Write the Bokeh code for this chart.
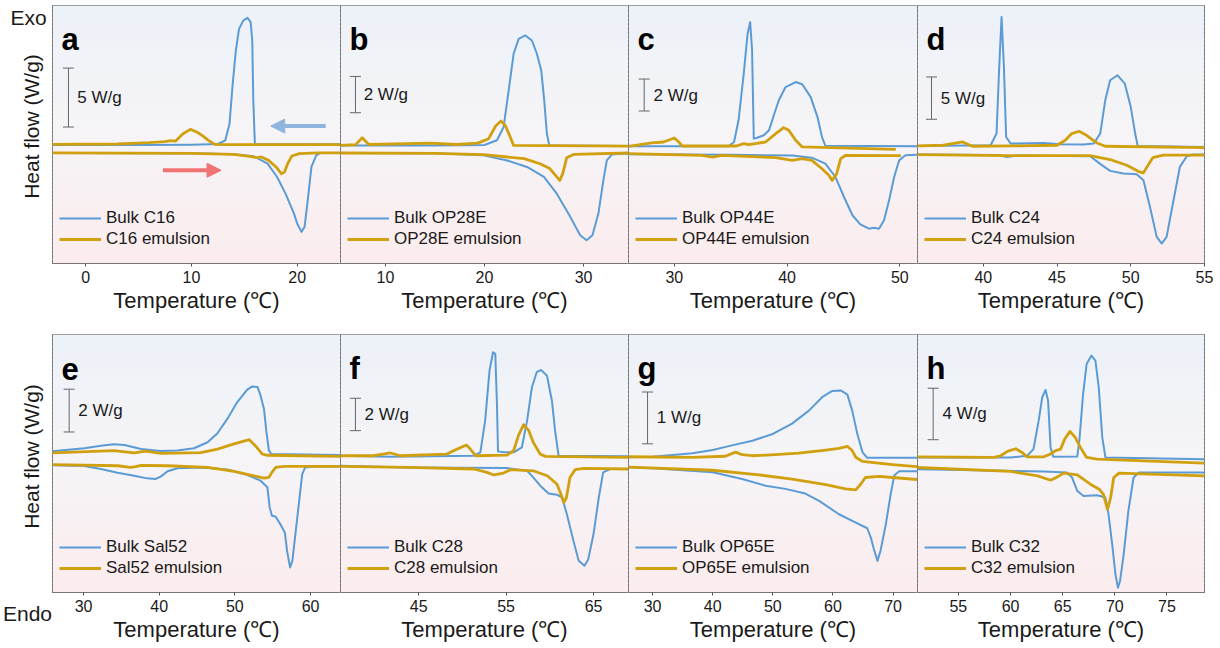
import numpy as np
from bokeh.plotting import figure
from bokeh.models import (Range1d, FixedTicker, Legend, LegendItem, Label, Arrow,
                          NormalHead)
from bokeh.layouts import row, column
from bokeh.embed import file_html
from bokeh.resources import INLINE

# ---------------- data (heat flow in W/g, offset traces) ----------------
# panel a : C16
a_bulk_cool_T = [-3.2, 5, 10, 12.5, 13.2, 13.6, 13.9, 14.2, 14.5, 14.9, 15.3, 15.6, 15.75, 15.85, 16.0, 20, 24.1]
a_bulk_cool_y = [-0.06, -0.06, -0.03, 0.03, 0.34, 1.75, 5.14, 7.97, 9.8, 10.5, 10.73, 10.37, 8.81, 3.73, 0, 0, 0]
a_emul_cool_T = [-3.2, 3, 6, 7.5, 8.0, 8.5, 9.2, 9.9, 10.5, 11.0, 11.6, 12.2, 13, 24.1]
a_emul_cool_y = [0, 0.03, 0.14, 0.23, 0.31, 0.28, 0.9, 1.27, 1.05, 0.76, 0.34, 0, -0.03, -0.03]
a_bulk_heat_T = [-3.2, 10, 14, 15.9, 17.2, 18.1, 18.9, 19.7, 20.0, 20.4, 20.7, 21.0, 21.35, 21.8, 22.2, 24.1]
a_bulk_heat_y = [-0.73, -0.76, -0.85, -1.02, -1.64, -2.77, -4.18, -5.88, -6.72, -7.43, -7.0, -4.75, -1.92, -0.93, -0.73, -0.73]
a_emul_heat_T = [-3.2, 10, 14, 15.5, 16.2, 16.6, 17.3, 18.0, 18.5, 18.8, 19.1, 19.5, 20.2, 22, 24.1]
a_emul_heat_y = [-0.73, -0.76, -0.85, -1.02, -1.13, -1.07, -1.36, -1.92, -2.49, -2.35, -1.64, -0.99, -0.79, -0.73, -0.73]

# panel b : OP28E
b_bulk_cool_T = [5.46, 15, 20, 21.26, 21.93, 22.44, 22.94, 23.45, 24.12, 24.79, 25.29, 25.73, 26.03, 26.3, 26.54, 30, 34.54]
b_bulk_cool_y = [0, 0, 0.02, 0.28, 1.01, 3.03, 5.05, 5.87, 6.06, 5.78, 5.05, 4.13, 2.48, 0.64, 0, -0.02, -0.04]
b_emul_cool_T = [5.46, 7.0, 7.65, 8.32, 14.5, 17.2, 19.24, 19.58, 20.42, 21.1, 21.66, 22.1, 22.6, 22.94, 34.54]
b_emul_cool_y = [0, 0.04, 0.42, 0.05, 0.13, 0.05, 0.13, 0.18, 0.37, 1.05, 1.34, 1.1, 0.46, 0, -0.04]
b_bulk_heat_T = [5.46, 15, 19.9, 22.3, 24.3, 26.0, 27.3, 28.66, 29.66, 30.3, 30.9, 31.5, 32.0, 32.35, 32.86, 33.7, 34.54]
b_bulk_heat_y = [-0.42, -0.44, -0.55, -0.83, -1.19, -1.74, -2.66, -3.94, -4.95, -5.23, -4.95, -3.76, -1.93, -0.83, -0.5, -0.46, -0.46]
b_emul_heat_T = [5.46, 15, 19.9, 24.0, 25.6, 26.6, 27.3, 27.6, 27.9, 28.3, 29.0, 34.54]
b_emul_heat_y = [-0.42, -0.44, -0.51, -0.73, -1.01, -1.28, -1.74, -1.93, -1.56, -0.68, -0.5, -0.42]

# panel c : OP44E
c_bulk_cool_T = [25.94, 34.8, 35.3, 35.7, 36.16, 36.5, 36.73, 36.9, 37.05, 37.35, 37.94, 38.4, 38.83, 39.27, 39.87, 40.76, 41.35, 42.1, 42.7, 43.1, 43.4, 51.57]
c_bulk_cool_y = [0, 0, 0.27, 1.63, 4.54, 7.04, 7.77, 6.0, 0.48, 0.54, 0.69, 1.0, 1.94, 2.88, 3.71, 4.02, 3.88, 3.08, 1.83, 0.58, 0.04, 0]
c_emul_cool_T = [25.94, 28.0, 29.05, 30.0, 30.4, 30.7, 35.5, 36.16, 36.6, 38.1, 39.0, 39.7, 40.16, 40.76, 41.35, 49.64]
c_emul_cool_y = [0, 0.21, 0.27, 0.52, 0.27, 0.02, 0.02, 0.17, 0.1, 0.27, 0.79, 1.17, 1.0, 0.38, -0.04, -0.19]
c_bulk_heat_T = [25.94, 35, 40.46, 42.2, 43.4, 44.3, 45.05, 45.8, 46.5, 47.27, 47.7, 48.16, 48.6, 49.05, 49.5, 49.94, 50.5, 51.57]
c_bulk_heat_y = [-0.5, -0.52, -0.58, -0.71, -1.08, -1.92, -3.17, -4.31, -4.88, -5.15, -5.1, -5.15, -4.63, -3.38, -1.92, -0.88, -0.56, -0.52]
c_emul_heat_T = [25.94, 32.46, 33.4, 34.2, 39.0, 40.46, 41.35, 42.2, 43.1, 43.7, 44.0, 44.4, 44.76, 45.2, 50.1]
c_emul_heat_y = [-0.46, -0.56, -0.67, -0.56, -0.71, -0.88, -0.77, -0.88, -1.4, -1.81, -2.13, -1.71, -0.77, -0.56, -0.58]

# panel d : C24
d_bulk_cool_T = [35.54, 40.5, 40.9, 41.08, 41.24, 41.4, 41.55, 41.85, 44.1, 45.2, 46.8, 47.5, 47.93, 48.27, 48.6, 49.1, 49.6, 50.0, 50.3, 50.47, 55]
d_bulk_cool_y = [0, 0.08, 1.46, 9.33, 15.24, 9.33, 1.06, 0.28, 0.35, 0.2, 0.16, 0.28, 1.46, 5.39, 7.76, 8.35, 7.36, 4.61, 1.46, 0, -0.12]
d_emul_cool_T = [35.54, 37.3, 38.6, 39.26, 41.85, 45.0, 45.56, 46.0, 46.5, 47.0, 47.7, 48.27, 55]
d_emul_cool_y = [0, 0.08, 0.47, -0.04, 0, 0.08, 0.67, 1.46, 1.73, 1.26, 0.35, -0.04, -0.2]
d_bulk_heat_T = [35.54, 41.0, 41.6, 42.3, 47.25, 47.9, 48.6, 49.5, 50.4, 50.86, 51.3, 51.76, 52.1, 52.43, 52.9, 53.33, 53.8, 54.25, 55]
d_bulk_heat_y = [-1.02, -1.06, -1.3, -1.14, -1.22, -2.09, -2.95, -3.27, -3.35, -4.06, -7.2, -10.75, -11.54, -10.75, -6.42, -2.48, -1.22, -1.02, -1.02]
d_emul_heat_T = [35.54, 41.6, 47.25, 48.6, 49.73, 50.6, 50.86, 51.1, 51.5, 52.2, 55]
d_emul_heat_y = [-1.02, -1.14, -1.14, -1.61, -2.28, -3.07, -3.19, -2.48, -1.38, -1.1, -1.1]

# panel e : Sal52
e_bulk_cool_T = [25.9, 30.1, 32.3, 34.0, 35.4, 37.6, 40.2, 42.4, 44.6, 46.4, 47.7, 49.0, 50.3, 51.6, 52.3, 53.0, 53.4, 53.85, 54.15, 54.5, 54.8, 63.96]
e_bulk_cool_y = [0.13, 0.27, 0.39, 0.45, 0.42, 0.23, 0.14, 0.16, 0.27, 0.55, 0.97, 1.64, 2.42, 3.0, 3.16, 3.13, 2.73, 2.11, 1.09, 0.16, 0, -0.05]
e_emul_cool_T = [25.9, 34.0, 36.7, 38.2, 40.2, 45.5, 47.7, 49.9, 51.9, 52.7, 53.6, 54.3, 63.96]
e_emul_cool_y = [0.05, 0.16, 0.05, 0.13, 0.03, 0.06, 0.23, 0.47, 0.67, 0.39, 0, -0.06, -0.11]
e_bulk_heat_T = [25.9, 30.1, 32.3, 34.5, 36.7, 38.4, 39.5, 40.2, 41.1, 42.4, 45.5, 49.0, 51.6, 53.4, 54.3, 54.6, 54.9, 55.4, 56.0, 56.6, 56.9, 57.3, 57.6, 58.0, 58.5, 58.9, 59.3, 60.4, 63.96]
e_bulk_heat_y = [-0.53, -0.56, -0.7, -0.88, -1.02, -1.14, -1.17, -1.06, -0.81, -0.67, -0.63, -0.73, -0.97, -1.25, -1.56, -2.5, -2.89, -2.94, -3.28, -3.67, -4.53, -5.31, -5.0, -3.75, -2.19, -0.94, -0.63, -0.59, -0.59]
e_emul_heat_T = [25.9, 34.5, 36.2, 36.9, 37.6, 41.1, 46.4, 49.9, 52.5, 53.85, 54.5, 54.9, 55.4, 56.5, 63.96]
e_emul_heat_y = [-0.5, -0.55, -0.63, -0.59, -0.53, -0.55, -0.63, -0.81, -1.02, -1.13, -1.09, -0.86, -0.63, -0.58, -0.58]

# panel f : C28
f_bulk_cool_T = [36.05, 41.8, 51.3, 52.05, 52.6, 53.1, 53.5, 53.76, 53.95, 54.07, 54.7, 55.86, 56.8, 57.4, 57.95, 58.5, 59.0, 59.67, 60.24, 60.6, 61.0, 69.0]
f_bulk_cool_y = [0.04, -0.02, 0.04, 0.25, 2.21, 5.3, 6.43, 6.33, 3.24, 0.31, 0.25, 0.25, 0.56, 2.21, 4.27, 5.2, 5.34, 4.99, 3.44, 1.59, 0.04, 0]
f_emul_cool_T = [36.05, 39.86, 41.76, 42.9, 48.2, 49.4, 50.45, 50.9, 51.5, 55.1, 55.86, 56.4, 57.0, 57.6, 58.1, 58.9, 59.5, 69.0]
f_emul_cool_y = [0.04, 0.04, 0.21, 0.04, 0.14, 0.45, 0.7, 0.45, 0.04, 0.08, 0.35, 1.28, 1.96, 1.59, 0.87, 0.14, 0, -0.06]
f_bulk_heat_T = [36.05, 43.7, 55.1, 57.4, 58.1, 58.9, 59.86, 60.8, 61.4, 61.95, 62.7, 63.3, 63.97, 64.4, 65.0, 65.6, 66.1, 66.9, 69.0]
f_bulk_heat_y = [-0.58, -0.68, -0.72, -0.89, -1.3, -1.81, -2.29, -2.37, -2.54, -3.57, -5.22, -6.45, -6.76, -6.35, -4.8, -2.54, -0.99, -0.78, -0.78]
f_emul_heat_T = [36.05, 43.7, 51.3, 52.8, 53.6, 54.7, 55.5, 58.1, 59.7, 60.8, 61.2, 61.6, 61.9, 62.3, 62.9, 63.86, 69.0]
f_emul_heat_y = [-0.62, -0.68, -0.78, -0.99, -1.15, -1.03, -0.82, -0.89, -1.2, -1.71, -2.23, -2.85, -2.54, -1.3, -0.82, -0.74, -0.78]

# panel g : OP65E
g_bulk_cool_T = [26.0, 30, 33.8, 36.6, 40, 43.2, 46.6, 50, 53.2, 56, 58.2, 59.9, 61.3, 62.4, 63.2, 64.06, 64.9, 65.7, 74.06]
g_bulk_cool_y = [0, 0.01, 0.05, 0.08, 0.14, 0.23, 0.32, 0.45, 0.65, 0.9, 1.16, 1.28, 1.29, 1.21, 0.9, 0.45, 0.1, -0.01, -0.01]
g_emul_cool_T = [26.0, 36.6, 42.1, 43.8, 44.9, 46.6, 50.4, 54.3, 58.8, 61.0, 62.4, 63.2, 63.8, 64.9, 69.9, 74.06]
g_emul_cool_y = [0.01, 0, 0.02, 0.1, 0.05, 0.03, 0.05, 0.08, 0.14, 0.17, 0.21, 0.13, 0, -0.08, -0.14, -0.18]
g_bulk_heat_T = [26.0, 30, 40, 44.9, 48.8, 52.1, 55.4, 57.7, 61.0, 63.8, 65.7, 66.3, 66.8, 67.4, 67.9, 68.8, 69.6, 70.2, 71.0, 74.06]
g_bulk_heat_y = [-0.19, -0.21, -0.29, -0.42, -0.55, -0.61, -0.7, -0.84, -1.1, -1.26, -1.37, -1.55, -1.77, -2.0, -1.81, -1.29, -0.71, -0.35, -0.27, -0.27]
g_emul_heat_T = [26.0, 40, 47.7, 53.2, 58.8, 62.1, 63.8, 64.6, 65.4, 67.7, 69.9, 74.06]
g_emul_heat_y = [-0.19, -0.25, -0.34, -0.42, -0.53, -0.61, -0.63, -0.52, -0.39, -0.37, -0.39, -0.43]

# panel h : C32
h_bulk_cool_T = [51.08, 60, 61.6, 62.2, 62.7, 63.04, 63.36, 63.6, 63.84, 64.1, 66.4, 66.6, 66.96, 67.3, 67.76, 68.14, 68.46, 68.8, 69.1, 78.6]
h_bulk_cool_y = [0, 0, 0.13, 0.65, 2.86, 4.68, 5.25, 4.42, 0.78, 0.05, 0.08, 1.3, 4.94, 7.27, 7.92, 7.53, 5.45, 1.56, 0, -0.13]
h_emul_cool_T = [51.08, 58.4, 59.05, 59.7, 60.5, 61.1, 61.6, 63.2, 63.8, 64.3, 64.8, 65.2, 65.7, 66.2, 66.7, 67.3, 68.3, 78.6]
h_emul_cool_y = [0.05, 0, 0.13, 0.47, 0.68, 0.39, 0.05, 0.05, 0.26, 0.52, 0.65, 1.43, 2.03, 1.56, 0.78, 0, -0.13, -0.44]
h_bulk_heat_T = [51.08, 63.2, 65.4, 65.9, 66.4, 67.0, 68.3, 69.1, 69.4, 69.75, 70.06, 70.3, 70.5, 70.85, 71.3, 71.8, 72.3, 78.6]
h_bulk_heat_y = [-0.91, -1.09, -1.17, -1.56, -2.6, -2.99, -2.94, -3.12, -4.42, -6.75, -9.09, -10.13, -9.61, -7.53, -4.16, -1.56, -1.17, -1.17]
h_emul_heat_T = [51.08, 60, 62.6, 63.84, 64.5, 65.1, 66.4, 67.66, 68.5, 68.9, 69.3, 69.6, 69.9, 70.4, 78.6]
h_emul_heat_y = [-0.78, -1.09, -1.43, -1.77, -1.51, -1.22, -1.35, -2.08, -2.47, -2.86, -4.03, -3.12, -1.56, -1.22, -1.43]

# panel settings
panel_letters = ["a", "b", "c", "d", "e", "f", "g", "h"]
sample_names = ["C16", "OP28E", "OP44E", "C24", "Sal52", "C28", "OP65E", "C32"]
x_limits = [(-3.15, 24.1), (5.46, 34.54), (25.94, 51.57), (35.54, 55.0),
            (25.9, 63.96), (36.05, 69.0), (26.0, 74.06), (51.08, 78.6)]
y_limits = [(-10.11, 11.78), (-6.51, 7.71), (-7.33, 8.81), (-13.9, 16.6),
            (-6.48, 5.59), (-8.41, 7.53), (-2.61, 2.37), (-10.5, 9.56)]
x_ticks = [[0, 10, 20], [10, 20, 30], [30, 40, 50], [40, 45, 50, 55],
           [30, 40, 50, 60], [45, 55, 65], [30, 40, 50, 60, 70], [55, 60, 65, 70, 75]]
scale_values = [5, 2, 2, 5, 2, 2, 1, 4]          # W/g of each scale bar

# scale-bar placement (data units of each panel)
scale_pos = [(-1.64, 1.47), (6.97, 1.8), (27.33, 2.21), (36.49, 3.15),
             (28.1, 1.03), (37.76, 1.59), (29.17, 0.26), (52.58, 1.38)]
scale_text_x = [-0.8, 7.8, 28.16, 37.12, 29.3, 38.8, 30.7, 53.47]

curves = {
    "a": (a_bulk_cool_T, a_bulk_cool_y, a_emul_cool_T, a_emul_cool_y, a_bulk_heat_T, a_bulk_heat_y, a_emul_heat_T, a_emul_heat_y),
    "b": (b_bulk_cool_T, b_bulk_cool_y, b_emul_cool_T, b_emul_cool_y, b_bulk_heat_T, b_bulk_heat_y, b_emul_heat_T, b_emul_heat_y),
    "c": (c_bulk_cool_T, c_bulk_cool_y, c_emul_cool_T, c_emul_cool_y, c_bulk_heat_T, c_bulk_heat_y, c_emul_heat_T, c_emul_heat_y),
    "d": (d_bulk_cool_T, d_bulk_cool_y, d_emul_cool_T, d_emul_cool_y, d_bulk_heat_T, d_bulk_heat_y, d_emul_heat_T, d_emul_heat_y),
    "e": (e_bulk_cool_T, e_bulk_cool_y, e_emul_cool_T, e_emul_cool_y, e_bulk_heat_T, e_bulk_heat_y, e_emul_heat_T, e_emul_heat_y),
    "f": (f_bulk_cool_T, f_bulk_cool_y, f_emul_cool_T, f_emul_cool_y, f_bulk_heat_T, f_bulk_heat_y, f_emul_heat_T, f_emul_heat_y),
    "g": (g_bulk_cool_T, g_bulk_cool_y, g_emul_cool_T, g_emul_cool_y, g_bulk_heat_T, g_bulk_heat_y, g_emul_heat_T, g_emul_heat_y),
    "h": (h_bulk_cool_T, h_bulk_cool_y, h_emul_cool_T, h_emul_cool_y, h_bulk_heat_T, h_bulk_heat_y, h_emul_heat_T, h_emul_heat_y),
}

# ---------------- styling ----------------
BLUE = "#5b9bd5"
GOLD = "#d1a00f"
FONT = "Liberation Sans"
TXT = "#1a1a1a"
FRAME_W = [288, 288, 289, 287]
STRIP_W = 52
TOP_C = np.array([236, 242, 248])
MID_C = np.array([246, 244, 247])
BOT_C = np.array([251, 236, 237])


def grad_color(t):
    if t < 0.5:
        c = TOP_C + (MID_C - TOP_C) * (t / 0.5)
    else:
        c = MID_C + (BOT_C - MID_C) * ((t - 0.5) / 0.5)
    return "#%02x%02x%02x" % tuple(int(round(v)) for v in c)


def make_strip(top_row):
    """Left margin strip (its frame is aligned with the panel frames of the row)."""
    h = 320 if top_row else 328
    # y range expressed in page pixels of the frame (top of frame -> end)
    yr = Range1d(263, 5) if top_row else Range1d(258, 0)
    s = figure(width=STRIP_W, height=h, x_range=Range1d(0, STRIP_W), y_range=yr,
               toolbar_location=None, output_backend="svg", min_border=0,
               x_axis_location=None if top_row else "below", y_axis_location=None,
               outline_line_color=None, background_fill_color="white",
               border_fill_color="white",
               min_border_top=5 if top_row else 14,
               min_border_bottom=57 if top_row else 56)
    s.grid.visible = False
    if top_row:
        s.add_layout(Label(x=10, y=17, text="Exo", text_font=FONT, text_font_size="21px",
                           text_color=TXT, text_baseline="alphabetic"))
        s.add_layout(Label(x=31, y=126, text="Heat flow (W/g)", angle=np.pi / 2,
                           text_align="center", text_baseline="middle",
                           text_font=FONT, text_font_size="21px", text_color=TXT))
    else:
        s.add_layout(Label(x=31, y=122, text="Heat flow (W/g)", angle=np.pi / 2,
                           text_align="center", text_baseline="middle",
                           text_font=FONT, text_font_size="21px", text_color=TXT))
        xa = s.xaxis[0]
        xa.ticker = FixedTicker(ticks=[27])
        xa.major_label_overrides = {27: "Endo"}
        xa.axis_line_color = None
        xa.major_tick_line_color = None
        xa.minor_tick_line_color = None
        xa.major_tick_out = 0
        xa.major_tick_in = 0
        xa.major_label_standoff = 9
        xa.major_label_text_font = FONT
        xa.major_label_text_font_size = "21px"
        xa.major_label_text_color = TXT
    return s


def make_panel(i):
    col = i % 4
    top_row = i < 4
    letter = panel_letters[i]
    x0, x1 = x_limits[i]
    y0, y1 = y_limits[i]
    p = figure(frame_width=FRAME_W[col], frame_height=258,
               x_range=Range1d(x0, x1), y_range=Range1d(y0, y1),
               toolbar_location=None, output_backend="svg",
               min_border_left=0,
               min_border_right=16 if col == 3 else 0,
               min_border_top=5 if top_row else 14,
               min_border_bottom=57 if top_row else 56,
               y_axis_location=None,
               background_fill_color="white", border_fill_color="white",
               outline_line_color="#4d4d4d", outline_line_width=1)
    p.grid.visible = False

    # gradient background
    n = 60
    edges = np.linspace(y0, y1, n + 1)
    hh = (y1 - y0) / n
    bots = list(edges[:-1])
    tops = list(edges[1:] + hh * 0.3)
    cols = [grad_color(1 - (k + 0.5) / n) for k in range(n)]
    p.quad(left=x0, right=x1, bottom=bots, top=tops, fill_color=cols, line_color=None)

    bcT, bcy, ecT, ecy, bhT, bhy, ehT, ehy = curves[letter]
    rb = p.line(bcT, bcy, line_color=BLUE, line_width=2, line_join="round")
    p.line(bhT, bhy, line_color=BLUE, line_width=2, line_join="round")
    rg = p.line(ecT, ecy, line_color=GOLD, line_width=2.8, line_join="round")
    p.line(ehT, ehy, line_color=GOLD, line_width=2.8, line_join="round")

    # scale bar
    sx, sy = scale_pos[i]
    s = scale_values[i]
    p.segment(x0=[sx], y0=[sy], x1=[sx], y1=[sy + s], line_color="#666666", line_width=1)
    p.scatter([sx, sx], [sy, sy + s], marker="dash", size=11, line_color="#666666", line_width=1)
    p.add_layout(Label(x=scale_text_x[i], y=sy + s / 2, text="%d W/g" % s,
                       text_baseline="middle", text_align="left",
                       text_font=FONT, text_font_size="17px", text_color=TXT))

    # panel letter
    p.add_layout(Label(x=9, y=224, x_units="screen", y_units="screen", text=letter,
                       text_font=FONT, text_font_size="31px", text_font_style="bold",
                       text_color="black", text_baseline="alphabetic"))

    legend = Legend(items=[LegendItem(label="Bulk " + sample_names[i], renderers=[rb]),
                           LegendItem(label=sample_names[i] + " emulsion", renderers=[rg])],
                    location=(7, 14), background_fill_alpha=0, border_line_color=None,
                    label_text_font=FONT, label_text_font_size="17px", label_text_color=TXT,
                    glyph_width=42, glyph_height=20, label_height=20, spacing=1,
                    padding=8, label_standoff=5, margin=0)
    p.add_layout(legend)

    # x axis
    xa = p.xaxis[0]
    xa.ticker = FixedTicker(ticks=x_ticks[i])
    xa.axis_line_color = None
    xa.major_tick_out = 3
    xa.major_tick_in = 0
    xa.major_tick_line_color = "#555555"
    xa.minor_tick_line_color = None
    xa.major_label_text_font = FONT
    xa.major_label_text_font_size = "16px"
    xa.major_label_text_color = TXT
    xa.major_label_standoff = 4
    xa.axis_label = "Temperature (℃)"
    xa.axis_label_text_font = FONT
    xa.axis_label_text_font_size = "22px"
    xa.axis_label_text_font_style = "normal"
    xa.axis_label_text_color = TXT
    xa.axis_label_standoff = 2

    if letter == "a":
        p.add_layout(Arrow(end=NormalHead(size=14, fill_color="#8fb5df", line_color="#8fb5df"),
                           x_start=22.7, y_start=1.55, x_end=17.5, y_end=1.55,
                           line_color="#8fb5df", line_width=4))
        p.add_layout(Arrow(end=NormalHead(size=14, fill_color="#f07272", line_color="#f07272"),
                           x_start=7.3, y_start=-2.2, x_end=12.8, y_end=-2.2,
                           line_color="#f07272", line_width=4))
    return p


panels = [make_panel(i) for i in range(8)]
layout = column(row(make_strip(True), *panels[:4]),
                row(make_strip(False), *panels[4:]))

open("out.html", "w").write(file_html(layout, INLINE))
